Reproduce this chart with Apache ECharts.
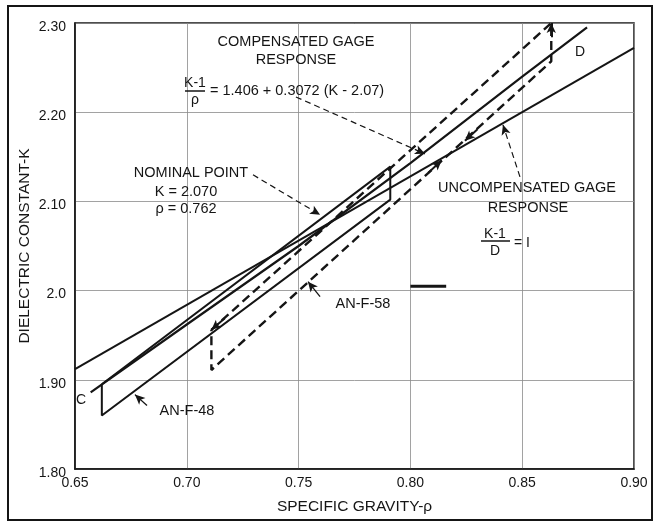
<!DOCTYPE html>
<html><head><meta charset="utf-8">
<script src="https://cdn.jsdelivr.net/npm/echarts/dist/echarts.min.js"></script>
<style>html,body{margin:0;padding:0;background:#fff}#c{width:655px;height:523px}</style>
</head><body><div id="c"></div>
<script>
// ---- data ----
const xTicks = [0.65, 0.70, 0.75, 0.80, 0.85, 0.90];
const xTickLabels = ['0.65', '0.70', '0.75', '0.80', '0.85', '0.90'];
const yTicks = [1.80, 1.90, 2.00, 2.10, 2.20, 2.30];
const yTickLabels = ['1.80', '1.90', '2.0', '2.10', '2.20', '2.30'];

const uncompRho = [0.65, 0.90];
const uncompK = [1.912, 2.272];
const compRho = [0.657, 0.70, 0.75, 0.80, 0.85, 0.879];
const compK = [1.886, 1.962, 2.050, 2.143, 2.240, 2.295];
const anf48Rho = [0.662, 0.791, 0.791, 0.662, 0.662];
const anf48K = [1.895, 2.139, 2.102, 1.860, 1.895];
const anf58Rho = [0.711, 0.863, 0.863, 0.711, 0.711];
const anf58K = [1.956, 2.300, 2.257, 1.911, 1.956];
const dashMarkRho = [0.800, 0.816];
const dashMarkK = [2.005, 2.005];

// leaders: [fromRho, fromK, toRho, toK]
const leaderDashed = [
  [0.7296, 2.1298, 0.7596, 2.085],
  [0.7488, 2.2171, 0.8065, 2.1533],
  [0.849, 2.1275, 0.8414, 2.1858]
];
const leaderSolid = [
  [0.7596, 1.9932, 0.7542, 2.010],
  [0.6822, 1.8711, 0.6768, 1.8834]
];
const edgeArrows = [
  [0.808, 2.132, 0.814, 2.146],
  [0.830, 2.181, 0.8244, 2.168],
  [0.863, 2.284, 0.863, 2.300],
  [0.717, 1.969, 0.711, 1.956]
];

const zip = (a, b) => a.map((v, i) => [v, b[i]]);
const INK = '#151515';
const FONT = 'Liberation Sans, Arial, sans-serif';

function tickLabel(v, ticks, labels) {
  for (let i = 0; i < ticks.length; i++) if (Math.abs(ticks[i] - v) < 1e-6) return labels[i];
  return '';
}

const markItems = [];
leaderDashed.forEach(l => markItems.push([
  {coord: [l[0], l[1]], lineStyle: {type: [6, 4], width: 1.2, color: INK}},
  {coord: [l[2], l[3]]}
]));
leaderSolid.forEach(l => markItems.push([
  {coord: [l[0], l[1]], lineStyle: {type: 'solid', width: 1.3, color: INK}},
  {coord: [l[2], l[3]]}
]));
edgeArrows.forEach(l => markItems.push([
  {coord: [l[0], l[1]], lineStyle: {type: 'solid', width: 2, color: INK}},
  {coord: [l[2], l[3]]}
]));

const chart = echarts.init(document.getElementById('c'), null, {renderer: 'canvas'});
chart.setOption({
  animation: false,
  backgroundColor: '#fff',
  grid: {left: 75, top: 23, width: 559, height: 446, show: true, borderColor: INK, borderWidth: 1.5},
  xAxis: {
    type: 'value', min: 0.65, max: 0.90, interval: 0.05,
    axisLine: {show: true, lineStyle: {color: INK, width: 1.5}},
    axisTick: {show: false},
    splitLine: {show: true, lineStyle: {color: '#8a8a8a', width: 0.8}},
    axisLabel: {color: INK, fontFamily: FONT, fontSize: 14, margin: 7,
      formatter: v => tickLabel(v, xTicks, xTickLabels)},
    name: 'SPECIFIC GRAVITY-ρ', nameLocation: 'middle', nameGap: 30, nameMoveOverlap: false,
    nameTextStyle: {color: INK, fontFamily: FONT, fontSize: 15.5}
  },
  yAxis: {
    type: 'value', min: 1.80, max: 2.30, interval: 0.1,
    axisLine: {show: true, lineStyle: {color: INK, width: 1.5}},
    axisTick: {show: false},
    splitLine: {show: true, lineStyle: {color: '#8a8a8a', width: 0.8}},
    axisLabel: {color: INK, fontFamily: FONT, fontSize: 14, margin: 9,
      formatter: v => '{a|' + tickLabel(v, yTicks, yTickLabels) + '}',
      rich: {a: {fontFamily: FONT, fontSize: 14, color: INK, padding: [8, 0, 0, 0]}}},
    name: 'DIELECTRIC CONSTANT-K', nameLocation: 'middle', nameGap: 42, nameRotate: 90, nameMoveOverlap: false,
    nameTextStyle: {color: INK, fontFamily: FONT, fontSize: 15.5}
  },
  series: [
    {type: 'line', data: zip(uncompRho, uncompK), symbol: 'none', lineStyle: {color: INK, width: 2},
     markLine: {silent: true, symbol: ['none', 'arrow'], symbolSize: [7, 10], label: {show: false},
       data: markItems}},
    {type: 'line', data: zip(compRho, compK), symbol: 'none', lineStyle: {color: INK, width: 2.2}},
    {type: 'line', data: zip(anf48Rho, anf48K), symbol: 'none', lineStyle: {color: INK, width: 2}},
    {type: 'line', data: zip(anf58Rho, anf58K), symbol: 'none', lineStyle: {color: INK, width: 2.4, type: [9, 5]}},
    {type: 'line', data: zip(dashMarkRho, dashMarkK), symbol: 'none', lineStyle: {color: INK, width: 3}}
  ]
});

// ---- annotation text (pixel layout) ----
function txt(x, y, s, size, align) {
  return {type: 'text', x: x, y: y, silent: true,
    style: {text: s, font: (size || 14.5) + 'px ' + FONT, fill: INK,
      textAlign: align || 'center', textVerticalAlign: 'middle', align: align || 'center', verticalAlign: 'middle'}};
}
function ln(x1, y1, x2, y2, w) {
  return {type: 'line', silent: true, shape: {x1, y1, x2, y2}, style: {stroke: INK, lineWidth: w || 1.3}};
}
chart.setOption({
  graphic: [
    {type: 'rect', silent: true, shape: {x: 8, y: 6, width: 644, height: 514}, style: {fill: 'none', stroke: INK, lineWidth: 2}},
    txt(296, 42, 'COMPENSATED GAGE'),
    txt(296, 60, 'RESPONSE'),
    txt(195, 83, 'K-1', 14),
    ln(185, 91, 205, 91, 1.5),
    txt(195, 100, 'ρ', 14),
    txt(210, 91, '= 1.406 + 0.3072 (K - 2.07)', 14.5, 'left'),
    txt(191, 173, 'NOMINAL POINT'),
    txt(186, 192, 'K = 2.070'),
    txt(186, 209, 'ρ = 0.762'),
    txt(527, 188, 'UNCOMPENSATED GAGE'),
    txt(528, 208, 'RESPONSE'),
    txt(495, 234, 'K-1', 14),
    ln(481, 241, 510, 241, 1.5),
    txt(495, 251, 'D', 14),
    txt(514, 243, '= I', 14, 'left'),
    txt(580, 52, 'D', 14),
    txt(81, 400, 'C', 14),
    txt(363, 304, 'AN-F-58'),
    txt(187, 411, 'AN-F-48')
  ]
});
</script></body></html>
